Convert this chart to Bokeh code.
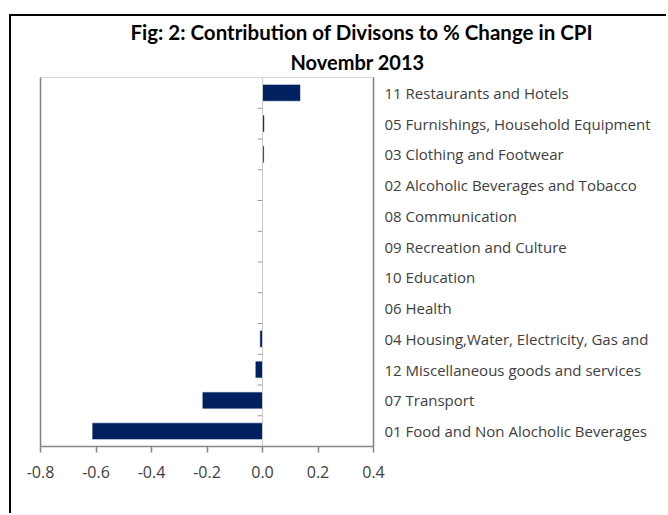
from bokeh.plotting import figure
from bokeh.models import (Range1d, LinearAxis, FixedTicker, NumeralTickFormatter,
                          Span, Title, ColumnDataSource)
from bokeh.embed import file_html
from bokeh.resources import INLINE
import math

# ---- data (top to bottom as shown) ----
categories = [
    "11 Restaurants and Hotels",
    "05 Furnishings, Household Equipment",
    "03 Clothing and Footwear",
    "02 Alcoholic Beverages and Tobacco",
    "08 Communication",
    "09 Recreation and Culture",
    "10 Education",
    "06 Health",
    "04 Housing,Water, Electricity, Gas and",
    "12 Miscellaneous goods and services",
    "07 Transport",
    "01 Food and Non Alocholic Beverages",
]
values = [0.135, 0.005, 0.004, 0.0, 0.0, 0.0, 0.0, 0.0, -0.008, -0.024, -0.215, -0.612]
x_ticks = [-0.8, -0.6, -0.4, -0.2, 0.0, 0.2, 0.4]
title_line1 = "Fig: 2: Contribution of Divisons to % Change in CPI"
title_line2 = "Novembr 2013"

n = len(categories)
ypos = [n - i - 0.5 for i in range(n)]
boundaries = list(range(1, n))

FONT = "Open Sans"
TFONT = "Lato"

p = figure(width=657, height=499, output_backend="svg", toolbar_location=None,
           x_range=Range1d(-0.8, 0.4), y_range=Range1d(0, n),
           min_border_left=29, min_border_right=295, min_border_top=61, min_border_bottom=69,
           y_axis_location=None)
p.title.visible = False
p.grid.visible = False
p.outline_line_color = "#d9d9d9"
p.outline_line_width = 1
p.background_fill_color = "white"
p.border_fill_color = "white"
p.margin = (14, 0, 0, 9)
p.styles = {"border-top": "2px solid black", "border-left": "2px solid black"}

# x axis
xa = p.xaxis[0]
xa.ticker = FixedTicker(ticks=x_ticks)
xa.formatter = NumeralTickFormatter(format="0.0")
xa.axis_line_color = "#868686"
xa.axis_line_width = 1.5
xa.major_tick_line_color = "#868686"
xa.major_tick_line_width = 1.5
xa.major_tick_in = 0
xa.major_tick_out = 6
xa.minor_tick_line_color = None
xa.major_label_text_font = FONT
xa.major_label_text_font_size = "16px"
xa.major_label_text_color = "#404040"
xa.major_label_standoff = 13

# left plot-area edge (no ticks, no labels)
la = LinearAxis(ticker=FixedTicker(ticks=[]), axis_line_color="#808080", axis_line_width=1.5,
                major_tick_line_color=None, minor_tick_line_color=None,
                major_label_text_font_size="0px")
p.add_layout(la, "left")

# right axis carrying category labels
ra = LinearAxis(ticker=FixedTicker(ticks=ypos),
                major_label_overrides={y: c for y, c in zip(ypos, categories)},
                axis_line_color="#808080", axis_line_width=1.5,
                major_tick_line_color=None, minor_tick_line_color=None,
                major_label_text_font=FONT, major_label_text_font_size="15px",
                major_label_text_color="#404040", major_label_standoff=5)
p.add_layout(ra, "right")

# category axis at x = 0
p.add_layout(Span(location=0, dimension="height", line_color="#c8c8c8", line_width=1))
p.ray(x=[0] * len(boundaries), y=boundaries, length=5, length_units="screen",
      angle=math.pi, line_color="#9a9a9a", line_width=1)

# bars
src = ColumnDataSource(dict(y=ypos, v=values))
p.hbar(y="y", left=0, right="v", height=0.52, source=src,
       fill_color="#002060", line_color="#002060", line_width=0.5)

# titles (first added sits closest to the plot)
t2 = Title(text=title_line2, align="left", offset=250, text_font=TFONT,
           text_font_style="bold", text_font_size="20px", text_color="black", standoff=8)
t1 = Title(text=title_line1, align="left", offset=90, text_font=TFONT,
           text_font_style="bold", text_font_size="20.5px", text_color="black", standoff=0)
p.add_layout(t2, "above")
p.add_layout(t1, "above")

open("out.html", "w").write(file_html(p, INLINE))
